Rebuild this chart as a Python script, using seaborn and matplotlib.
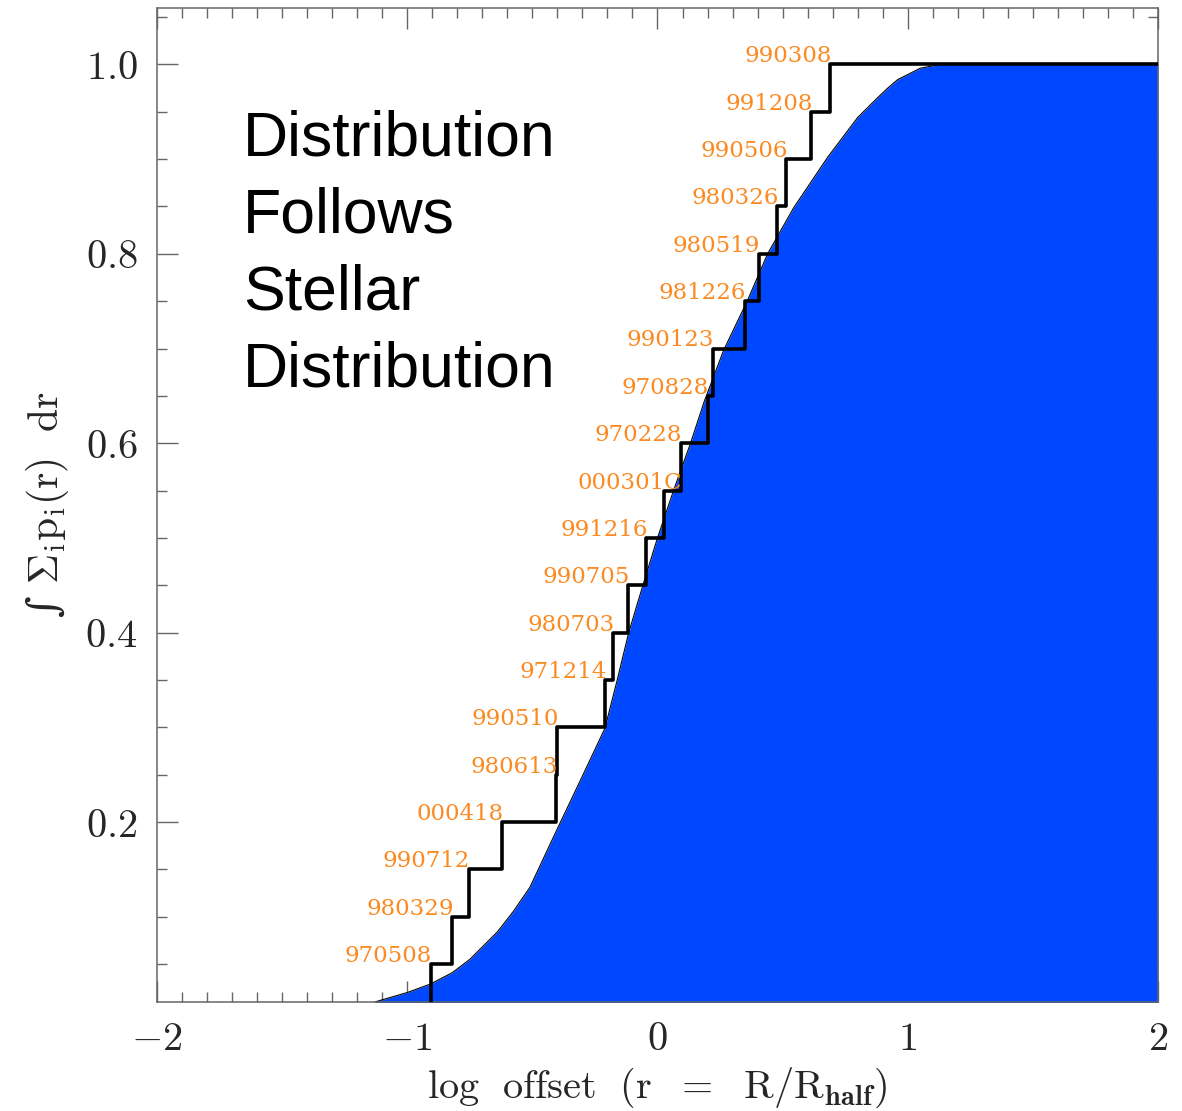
import numpy as np
import matplotlib
matplotlib.use("Agg")
import matplotlib.pyplot as plt
import seaborn as sns

# burst names, in order of increasing offset (each burst carries 1/20 of the weight)
burst_names = ["970508", "980329", "990712", "000418", "980613", "990510",
               "971214", "980703", "990705", "991216", "000301C", "970228",
               "970828", "990123", "981226", "980519", "980326", "990506",
               "991208", "990308"]
# log offset of each burst (r = R/R_half)
burst_logr = [-0.907, -0.82, -0.754, -0.62, -0.405, -0.40,
              -0.208, -0.177, -0.117, -0.045, 0.025, 0.092,
              0.20, 0.222, 0.348, 0.405, 0.478, 0.515,
              0.614, 0.691]

# cumulative stellar light distribution (blue area)
stellar_logr = [-1.13, -1.0, -0.907, -0.82, -0.75, -0.64, -0.575, -0.51, -0.40,
                -0.31, -0.21, -0.16, -0.115, -0.056, 0.0, 0.064, 0.132, 0.188,
                0.264, 0.36, 0.44, 0.545, 0.68, 0.80, 0.88, 0.92, 0.96, 1.05,
                1.13, 2.0]
stellar_cum = [0.01, 0.02, 0.029, 0.041, 0.055, 0.084, 0.106, 0.131, 0.193,
               0.243, 0.299, 0.351, 0.40, 0.452, 0.50, 0.55, 0.60, 0.645,
               0.698, 0.751, 0.80, 0.849, 0.902, 0.944, 0.965, 0.975, 0.984,
               0.996, 1.0, 1.0]

xticks = [-2, -1, 0, 1, 2]
xtick_labels = ["$-2$", "$-1$", "$0$", "$1$", "$2$"]
yticks = [0.2, 0.4, 0.6, 0.8, 1.0]
ytick_labels = ["$0.2$", "$0.4$", "$0.6$", "$0.8$", "$1.0$"]

note_lines = ["Distribution", "Follows", "Stellar", "Distribution"]

sns.set_style("ticks")
plt.rcParams["mathtext.fontset"] = "cm"
plt.rcParams["font.family"] = ["DejaVu Serif"]

fig = plt.figure(figsize=(11.82, 11.11), dpi=100)
ax = fig.add_axes([0.1328, 0.0981, 0.8469, 0.8947])

# blue area + thin outline
ax.fill_between(stellar_logr, 0, stellar_cum, color="#0048ff", lw=0, zorder=1)
sns.lineplot(x=stellar_logr, y=stellar_cum, color="black", linewidth=0.8,
             estimator=None, sort=False, ax=ax, zorder=2)

# cumulative step of the bursts
n = len(burst_logr)
levels = list(np.arange(1, n + 1) / n)
step_x = [burst_logr[0]] + burst_logr + [2.0]
step_y = [0.0] + levels + [1.0]
sns.lineplot(x=step_x, y=step_y, color="black", linewidth=2.6,
             drawstyle="steps-post", estimator=None, sort=False, ax=ax, zorder=3)

for name, xv, lv in zip(burst_names, burst_logr, levels):
    ax.annotate(name, xy=(xv, lv), xytext=(-62, 1.5), textcoords="offset points",
                ha="left", va="baseline", fontsize=16.5, family="DejaVu Serif",
                color="#fb8a22", zorder=4)

for i, line in enumerate(note_lines):
    ax.text(0.086, 0.852 - i * 0.0775, line, transform=ax.transAxes,
            fontsize=45, family="Liberation Sans", color="black",
            ha="left", va="baseline")

ax.set_xlim(-2, 2)
ax.set_ylim(0.01, 1.0596)
ax.set_xticks(xticks)
ax.set_xticklabels(xtick_labels)
ax.set_yticks(yticks)
ax.set_yticklabels(ytick_labels)
ax.xaxis.set_minor_locator(matplotlib.ticker.MultipleLocator(0.1))
ax.yaxis.set_minor_locator(matplotlib.ticker.MultipleLocator(0.05))
ax.tick_params(which="both", direction="in", top=True, right=True,
               color="#666666", width=1.0)
ax.tick_params(which="major", length=15, labelsize=29)
ax.tick_params(which="minor", length=7.5)
ax.tick_params(axis="x", which="major", pad=14)
ax.tick_params(axis="y", which="major", pad=14)
for sp in ax.spines.values():
    sp.set_color("#666666")
    sp.set_linewidth(1.1)
    sp.set_visible(True)

ax.set_xlabel(r"$\mathrm{log\ \ offset\ \ (r\ \ =\ \ R/R_{\mathbf{half}})}$",
              fontsize=29, labelpad=5)
ax.set_ylabel(r"∫ $\Sigma_{\mathrm{i}}\mathrm{p_i(r)\ \ dr}$",
              fontsize=30, family="DejaVu Serif", labelpad=10)

fig.savefig("out.png", dpi=100)
plt.close(fig)
